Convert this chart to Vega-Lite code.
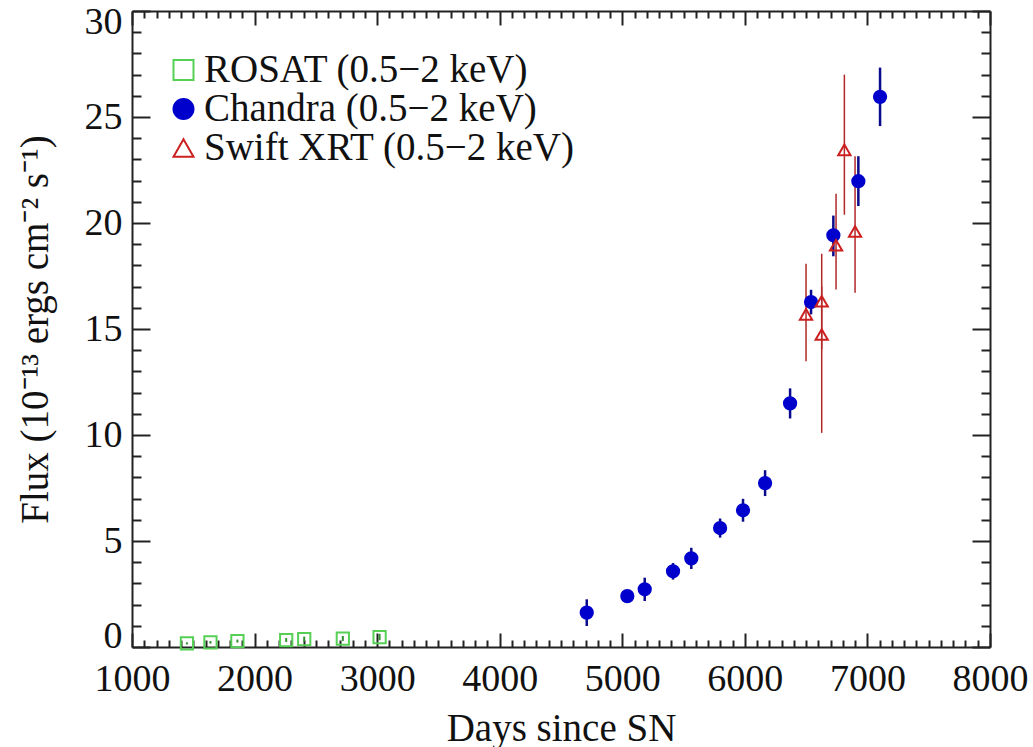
{
  "$schema": "https://vega.github.io/schema/vega-lite/v6.json",
  "width": 858,
  "height": 636,
  "autosize": {"type": "none"},
  "padding": {"left": 132, "top": 11, "right": 43, "bottom": 100},
  "background": "white",
  "config": {
    "font": "Liberation Serif",
    "view": {"stroke": null},
    "axis": {
      "grid": false,
      "domainColor": "#222222",
      "domainWidth": 2,
      "tickColor": "#222222",
      "tickWidth": 2,
      "labelFont": "Liberation Serif",
      "labelFontSize": 38,
      "labelColor": "#111111",
      "titleFont": "Liberation Serif",
      "titleFontSize": 39,
      "titleFontWeight": "normal",
      "titleColor": "#111111"
    },
    "legend": {
      "labelFont": "Liberation Serif",
      "titleFont": "Liberation Serif"
    }
  },
  "data": {
    "values": [
      {"mission": "ROSAT (0.5−2 keV)", "day": 1448, "flux": 0.17, "lo": 0.12, "hi": 0.22},
      {"mission": "ROSAT (0.5−2 keV)", "day": 1640, "flux": 0.22, "lo": 0.16, "hi": 0.28},
      {"mission": "ROSAT (0.5−2 keV)", "day": 1860, "flux": 0.28, "lo": 0.21, "hi": 0.35},
      {"mission": "ROSAT (0.5−2 keV)", "day": 2258, "flux": 0.33, "lo": 0.24, "hi": 0.42},
      {"mission": "ROSAT (0.5−2 keV)", "day": 2405, "flux": 0.37, "lo": 0.25, "hi": 0.49},
      {"mission": "ROSAT (0.5−2 keV)", "day": 2720, "flux": 0.40, "lo": 0.28, "hi": 0.52},
      {"mission": "ROSAT (0.5−2 keV)", "day": 3020, "flux": 0.47, "lo": 0.32, "hi": 0.62},
      {"mission": "Chandra (0.5−2 keV)", "day": 4710, "flux": 1.62, "lo": 0.99, "hi": 2.25},
      {"mission": "Chandra (0.5−2 keV)", "day": 5041, "flux": 2.40, "lo": 2.20, "hi": 2.60},
      {"mission": "Chandra (0.5−2 keV)", "day": 5183, "flux": 2.72, "lo": 2.17, "hi": 3.27},
      {"mission": "Chandra (0.5−2 keV)", "day": 5414, "flux": 3.57, "lo": 3.18, "hi": 3.96},
      {"mission": "Chandra (0.5−2 keV)", "day": 5563, "flux": 4.18, "lo": 3.68, "hi": 4.68},
      {"mission": "Chandra (0.5−2 keV)", "day": 5798, "flux": 5.61, "lo": 5.16, "hi": 6.06},
      {"mission": "Chandra (0.5−2 keV)", "day": 5985, "flux": 6.45, "lo": 5.91, "hi": 6.99},
      {"mission": "Chandra (0.5−2 keV)", "day": 6165, "flux": 7.73, "lo": 7.12, "hi": 8.34},
      {"mission": "Chandra (0.5−2 keV)", "day": 6369, "flux": 11.49, "lo": 10.78, "hi": 12.20},
      {"mission": "Chandra (0.5−2 keV)", "day": 6540, "flux": 16.27, "lo": 15.69, "hi": 16.85},
      {"mission": "Chandra (0.5−2 keV)", "day": 6722, "flux": 19.42, "lo": 18.43, "hi": 20.35},
      {"mission": "Chandra (0.5−2 keV)", "day": 6926, "flux": 21.97, "lo": 20.80, "hi": 23.15},
      {"mission": "Chandra (0.5−2 keV)", "day": 7103, "flux": 25.95, "lo": 24.57, "hi": 27.33},
      {"mission": "Swift XRT (0.5−2 keV)", "day": 6499, "flux": 15.69, "lo": 13.48, "hi": 18.08},
      {"mission": "Swift XRT (0.5−2 keV)", "day": 6627, "flux": 16.31, "lo": 14.05, "hi": 18.55},
      {"mission": "Swift XRT (0.5−2 keV)", "day": 6627, "flux": 14.74, "lo": 10.10, "hi": 17.00},
      {"mission": "Swift XRT (0.5−2 keV)", "day": 6744, "flux": 18.95, "lo": 16.86, "hi": 21.38},
      {"mission": "Swift XRT (0.5−2 keV)", "day": 6812, "flux": 23.45, "lo": 20.39, "hi": 27.00},
      {"mission": "Swift XRT (0.5−2 keV)", "day": 6899, "flux": 19.60, "lo": 16.71, "hi": 23.15}
    ]
  },
  "layer": [
    {
      "mark": {"type": "rule"},
      "encoding": {
        "x": {
          "field": "day",
          "type": "quantitative",
          "scale": {"domain": [1000, 8000], "nice": false, "zero": false},
          "axis": {
            "orient": "bottom",
            "title": "Days since SN",
            "format": "d",
            "tickCount": 70,
            "labelExpr": "datum.value % 1000 === 0 ? datum.label : ''",
            "labelOverlap": false,
            "labelFlush": false,
            "tickSize": {"condition": {"test": "datum.value % 1000 === 0", "value": -14}, "value": -7},
            "labelPadding": 27,
            "titlePadding": 4
          }
        },
        "y": {
          "field": "lo",
          "type": "quantitative",
          "scale": {"domain": [0, 30], "nice": false},
          "axis": {
            "orient": "left",
            "title": "Flux (10⁻¹³ ergs cm⁻² s⁻¹)",
            "tickCount": 30,
            "labelExpr": "datum.value % 5 === 0 ? datum.label : ''",
            "labelOverlap": false,
            "labelFlush": true,
            "labelFlushOffset": 8,
            "tickSize": {"condition": {"test": "datum.value % 5 === 0", "value": -18}, "value": -9},
            "labelPadding": 28,
            "titlePadding": 29
          }
        },
        "y2": {"field": "hi"},
        "stroke": {
          "field": "mission",
          "type": "nominal",
          "scale": {"range": ["#0a0a8c", "#2f8f2f", "#b02828"]},
          "legend": null
        },
        "strokeWidth": {
          "field": "mission",
          "type": "nominal",
          "scale": {"range": [2.5, 1.5, 1.6]},
          "legend": null
        }
      }
    },
    {
      "mark": {"type": "point", "filled": false, "size": 150, "strokeWidth": 2, "opacity": 1},
      "encoding": {
        "x": {
          "field": "day",
          "type": "quantitative",
          "scale": {"domain": [1000, 8000], "nice": false, "zero": false},
          "axis": {
            "orient": "top",
            "title": null,
            "labels": false,
            "tickCount": 70,
            "tickSize": {"condition": {"test": "datum.value % 1000 === 0", "value": -14}, "value": -7}
          }
        },
        "y": {
          "field": "flux",
          "type": "quantitative",
          "scale": {"domain": [0, 30], "nice": false},
          "axis": {
            "orient": "right",
            "title": null,
            "labels": false,
            "tickCount": 30,
            "tickSize": {"condition": {"test": "datum.value % 5 === 0", "value": -18}, "value": -9}
          }
        },
        "color": {
          "field": "mission",
          "type": "nominal",
          "scale": {
            "domain": ["ROSAT (0.5−2 keV)", "Chandra (0.5−2 keV)", "Swift XRT (0.5−2 keV)"],
            "range": ["#55d055", "#0000cc", "#cc2020"]
          },
          "legend": {
            "title": null,
            "orient": "none",
            "legendX": 32,
            "legendY": 42,
            "padding": 0,
            "labelFont": "Liberation Serif",
            "labelFontSize": 39,
            "labelColor": "#111111",
            "labelOffset": 1,
            "labelLimit": 600,
            "clipHeight": 34,
            "rowPadding": 0,
            "symbolSize": 400,
            "symbolStrokeWidth": 2,
            "symbolOpacity": 1
          }
        },
        "fill": {
          "field": "mission",
          "type": "nominal",
          "scale": {
            "domain": ["ROSAT (0.5−2 keV)", "Chandra (0.5−2 keV)", "Swift XRT (0.5−2 keV)"],
            "range": ["transparent", "#0000cc", "transparent"]
          }
        },
        "shape": {
          "field": "mission",
          "type": "nominal",
          "scale": {
            "domain": ["ROSAT (0.5−2 keV)", "Chandra (0.5−2 keV)", "Swift XRT (0.5−2 keV)"],
            "range": ["square", "circle", "triangle-up"]
          }
        }
      }
    }
  ],
  "resolve": {"axis": {"x": "independent", "y": "independent"}}
}
